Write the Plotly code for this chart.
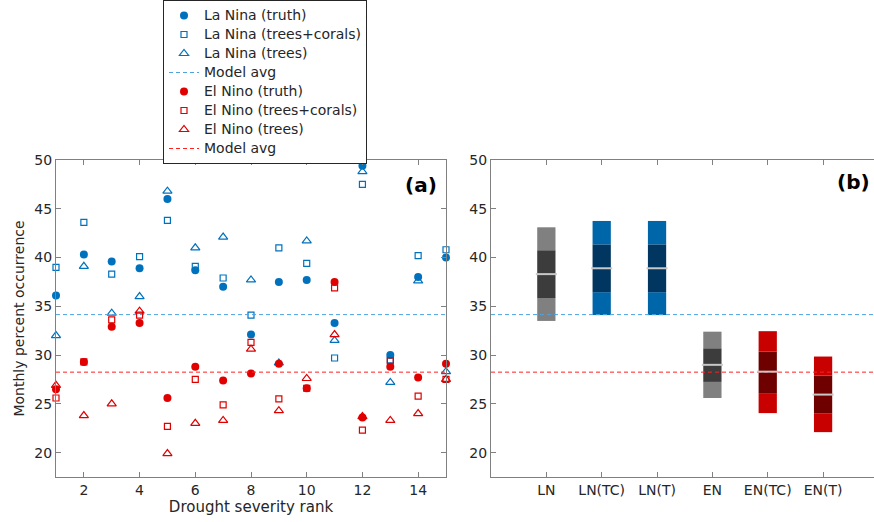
import plotly.graph_objects as go

# ---------------- data ----------------
rank = list(range(1, 16))
ln_truth = [36.1, 40.3, 39.6, 38.9, 46.0, 38.7, 37.0, 32.1, 37.5, 37.7, 33.3, 49.4, 30.0, 38.0, 40.0]
ln_tc    = [39.0, 43.6, 38.3, 40.1, 43.8, 39.1, 37.9, 34.1, 41.0, 39.4, 29.7, 47.5, 29.5, 40.2, 40.8]
ln_trees = [32.0, 39.1, 34.3, 36.0, 46.8, 41.0, 42.1, 37.7, 29.2, 41.7, 31.5, 48.8, 27.2, 37.6, 28.3]
en_truth = [26.5, 29.3, 32.9, 33.3, 25.6, 28.8, 27.4, 28.1, 29.1, 26.6, 37.5, 23.6, 28.8, 27.7, 29.1]
en_tc    = [25.6, 29.3, 33.6, 34.1, 22.7, 27.5, 24.9, 31.3, 25.5, 26.6, 36.9, 22.3, 29.4, 25.8, 27.5]
en_trees = [26.9, 23.8, 25.0, 34.5, 19.9, 23.0, 23.3, 30.6, 24.3, 27.6, 32.1, 23.7, 23.3, 24.0, 27.5]
ln_model_avg = 34.15
en_model_avg = 28.25

series_names = ["La Nina (truth)", "La Nina (trees+corals)", "La Nina (trees)", "Model avg",
                "El Nino (truth)", "El Nino (trees+corals)", "El Nino (trees)", "Model avg"]

categories = ["LN", "LN(TC)", "LN(T)", "EN", "EN(TC)", "EN(T)"]
cat_pos = [1, 2, 3, 4, 5, 6]
dist_min = [33.5, 34.1, 34.1, 25.6, 24.05, 22.1]
dist_qlo = [35.85, 36.45, 36.45, 27.25, 26.1, 24.0]
dist_med = [38.3, 38.9, 38.9, 29.0, 28.3, 25.95]
dist_qhi = [40.75, 41.35, 41.35, 30.7, 30.35, 27.9]
dist_max = [43.1, 43.75, 43.75, 32.4, 32.45, 29.85]

y_ticks = [20, 25, 30, 35, 40, 45, 50]
x_ticks = [2, 4, 6, 8, 10, 12, 14]

# ---------------- styles ----------------
BLUE = "#0072BD"
RED = "#E00000"
BLUE_AVG = "#4DA3E0"
RED_AVG = "#FF2020"
light_cols = ["#808080", "#0066AA", "#0066AA", "#808080", "#C80000", "#C80000"]
dark_cols = ["#3C3C3C", "#00365F", "#00365F", "#3C3C3C", "#6E0000", "#6E0000"]
FONT = "DejaVu Sans"
TXT = "#262626"
AX = "#808080"

def lname(s):
    return '<span style="font-size:14px">' + s + '</span>'

fig = go.Figure()

def pts(y, name, symbol, color, size, lw):
    fig.add_trace(go.Scatter(
        x=rank, y=y, mode="markers", name=lname(name), cliponaxis=False,
        marker=dict(symbol=symbol, size=size, color=color,
                    line=dict(color=color, width=lw)),
        xaxis="x", yaxis="y"))

x_left = [rank[0], rank[-1]]
x_right = [0, 6.92]

pts(ln_truth, series_names[0], "circle", BLUE, 8, 0)
pts(ln_tc, series_names[1], "square-open", BLUE, 6, 1.2)
pts(ln_trees, series_names[2], "triangle-up-open", BLUE, 8, 1.2)
fig.add_trace(go.Scatter(x=x_left, y=[ln_model_avg] * 2, mode="lines", name=lname(series_names[3]),
                         line=dict(color=BLUE_AVG, width=1, dash="4px,3px"), xaxis="x", yaxis="y"))
pts(en_truth, series_names[4], "circle", RED, 8, 0)
pts(en_tc, series_names[5], "square-open", RED, 6, 1.2)
pts(en_trees, series_names[6], "triangle-up-open", RED, 8, 1.2)
fig.add_trace(go.Scatter(x=x_left, y=[en_model_avg] * 2, mode="lines", name=lname(series_names[7]),
                         line=dict(color=RED_AVG, width=1, dash="4px,3px"), xaxis="x", yaxis="y"))

# ---------------- right panel ----------------
fig.add_trace(go.Scatter(x=x_right, y=[ln_model_avg] * 2, mode="lines", showlegend=False,
                         line=dict(color=BLUE_AVG, width=1, dash="4px,3px"), xaxis="x2", yaxis="y2"))
fig.add_trace(go.Scatter(x=x_right, y=[en_model_avg] * 2, mode="lines", showlegend=False,
                         line=dict(color=RED_AVG, width=1, dash="4px,3px"), xaxis="x2", yaxis="y2"))

bw = 0.33
fig.add_trace(go.Bar(x=cat_pos, y=[q - m for q, m in zip(dist_qlo, dist_min)], base=dist_min,
                     width=bw, marker=dict(color=light_cols, line=dict(width=0)),
                     showlegend=False, xaxis="x2", yaxis="y2"))
fig.add_trace(go.Bar(x=cat_pos, y=[h - l for h, l in zip(dist_qhi, dist_qlo)], base=dist_qlo,
                     width=bw, marker=dict(color=dark_cols, line=dict(width=0)),
                     showlegend=False, xaxis="x2", yaxis="y2"))
fig.add_trace(go.Bar(x=cat_pos, y=[m - h for m, h in zip(dist_max, dist_qhi)], base=dist_qhi,
                     width=bw, marker=dict(color=light_cols, line=dict(width=0)),
                     showlegend=False, xaxis="x2", yaxis="y2"))

mx, my = [], []
for p, m in zip(cat_pos, dist_med):
    mx += [p - 0.19, p + 0.19, None]
    my += [m, m, None]
fig.add_trace(go.Scatter(x=mx, y=my, mode="lines", showlegend=False,
                         line=dict(color="#C8C8C8", width=2), xaxis="x2", yaxis="y2"))

W, H = 874, 522
L1, R1 = 56 / W, 446 / W
L2, R2 = 491 / W, 1.0
B, T = 1 - 477 / H, 1 - 160 / H

axis_common = dict(showgrid=False, zeroline=False, showline=True, linecolor=AX, linewidth=1,
                   ticks="inside", ticklen=5, tickcolor=AX, automargin=False,
                   tickfont=dict(family=FONT, size=14, color=TXT))

fig.update_layout(
    width=W, height=H, margin=dict(l=0, r=0, t=0, b=0, pad=0, autoexpand=False),
    paper_bgcolor="white", plot_bgcolor="white", barmode="overlay",
    font=dict(family=FONT, size=14, color=TXT),
    xaxis=dict(domain=[L1, R1], range=[1, 15], tickvals=x_ticks, mirror="ticks",
               title=dict(text="Drought severity rank", font=dict(family=FONT, size=15, color=TXT), standoff=3),
               **axis_common),
    yaxis=dict(domain=[B, T], range=[17.5, 50], tickvals=y_ticks, mirror="ticks",
               title=dict(text="Monthly percent occurrence", font=dict(family=FONT, size=14, color=TXT), standoff=6),
               **axis_common),
    xaxis2=dict(domain=[L2, R2], range=x_right, tickvals=cat_pos, ticktext=categories, mirror="ticks",
                anchor="y2", **axis_common),
    yaxis2=dict(domain=[B, T], range=[17.5, 50], tickvals=y_ticks, anchor="x2", **axis_common),
    legend=dict(x=163 / W, y=1.0, xanchor="left", yanchor="top",
                bgcolor="white", bordercolor=TXT, borderwidth=1,
                font=dict(family=FONT, size=11, color=TXT), tracegroupgap=0),
    annotations=[
        dict(text="<b>(a)</b>", x=439 / W, y=1 - 171 / H, xref="paper", yref="paper",
             xanchor="right", yanchor="top", showarrow=False,
             font=dict(family=FONT, size=20, color="black")),
        dict(text="<b>(b)</b>", x=872 / W, y=1 - 168 / H, xref="paper", yref="paper",
             xanchor="right", yanchor="top", showarrow=False,
             font=dict(family=FONT, size=20, color="black")),
    ],
)

fig.write_html("out.html", config={"displayModeBar": False},
               post_script="document.body.style.margin='0';document.body.style.overflow='hidden';")
